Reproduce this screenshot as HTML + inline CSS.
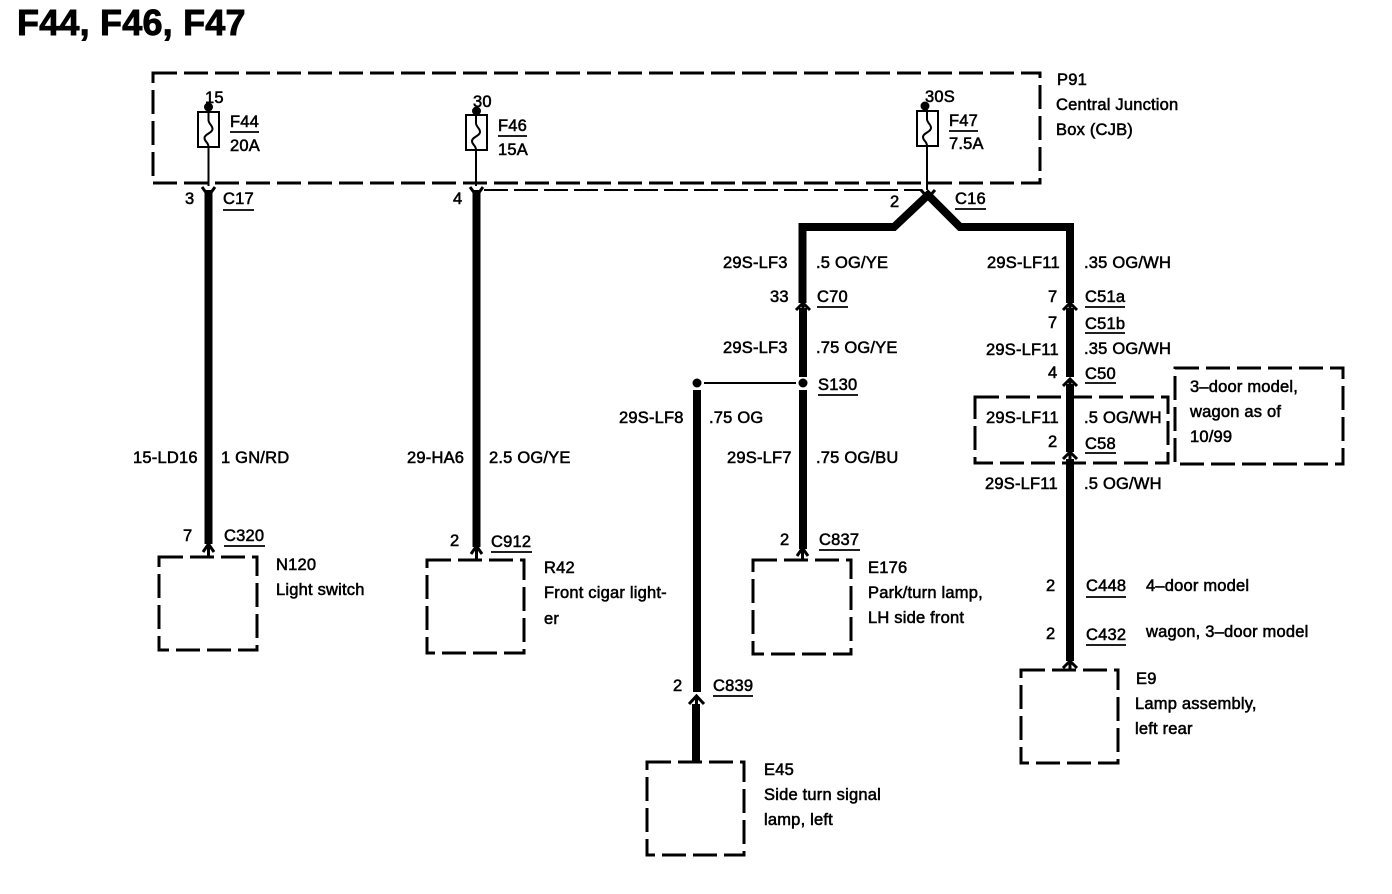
<!DOCTYPE html>
<html lang="en">
<head>
<meta charset="utf-8">
<title>F44, F46, F47</title>
<style>
html,body{margin:0;padding:0;background:#fff}
svg{display:block}
text{font-family:"Liberation Sans",sans-serif;font-size:16.5px;letter-spacing:.2px;fill:#000;stroke:#000;stroke-width:.55}
.title{font-size:36px;font-weight:bold;stroke-width:.9;letter-spacing:.2px}
.box{fill:none;stroke:#000;stroke-width:3;stroke-dasharray:24 7}
.w{fill:none;stroke:#000;stroke-width:8}
.t{fill:none;stroke:#000;stroke-width:2}
.u{stroke:#000;stroke-width:1.8}
.c{fill:none;stroke:#000;stroke-width:3}
.f{fill:#fff;stroke:#000;stroke-width:2}
</style>
</head>
<body>
<svg width="1392" height="894" viewBox="0 0 1392 894" xmlns="http://www.w3.org/2000/svg">
<rect width="1392" height="894" fill="#fff"/>
<text class="title" x="17" y="35">F44, F46, F47</text>

<!-- dashed boxes -->
<rect class="box" x="153" y="73" width="887" height="110"/>
<rect class="box" x="975" y="397" width="193" height="66"/>
<rect class="box" x="1175" y="368" width="168" height="96"/>
<rect class="box" x="159" y="557" width="98" height="93"/>
<rect class="box" x="427" y="560" width="97" height="93"/>
<rect class="box" x="753" y="560" width="98" height="94"/>
<rect class="box" x="1021" y="670" width="97" height="93"/>
<rect class="box" x="647" y="762" width="97" height="93"/>

<!-- fuses -->
<g>
<circle cx="208.5" cy="107" r="4.5"/>
<line class="t" x1="208.5" y1="107" x2="208.5" y2="186"/>
<rect class="f" x="198" y="112" width="21" height="35"/>
<path class="t" d="M208.5 112v8c0 4 4 5 4 9s-8 5-8 9 4 4 4 9"/>
<circle cx="476.5" cy="111" r="4.5"/>
<line class="t" x1="476" y1="111" x2="476" y2="186"/>
<rect class="f" x="466" y="115" width="21" height="35"/>
<path class="t" d="M476 115v8c0 4 4 5 4 9s-8 5-8 9 4 4 4 9"/>
<circle cx="925" cy="106" r="4.5"/>
<line class="t" x1="927" y1="146" x2="927" y2="190"/>
<rect class="f" x="917" y="111" width="21" height="35"/>
<path class="t" d="M926 106l1 5v8c0 4 4 5 4 9s-8 5-8 9 4 4 4 9"/>
</g>

<!-- dashed feed between connectors -->
<line class="t" x1="484" y1="190" x2="922" y2="190" stroke-dasharray="24 6"/>

<!-- heavy wires -->
<line class="w" x1="208.5" y1="190" x2="208.5" y2="544"/>
<line class="w" x1="476.5" y1="190" x2="476.5" y2="547"/>
<path class="w" d="M802.5 303V227H894L928 195L960 227H1070V303"/>
<line class="w" x1="803" y1="308" x2="803" y2="377"/>
<line class="w" x1="803" y1="390" x2="803" y2="549"/>
<line class="w" x1="697" y1="390" x2="697" y2="692"/>
<line class="w" x1="696" y1="704" x2="696" y2="762"/>
<line class="w" x1="1070" y1="308" x2="1070" y2="377"/>
<line class="w" x1="1070" y1="384" x2="1070" y2="452"/>
<line class="w" x1="1070" y1="459" x2="1070" y2="661"/>

<!-- thin links and splices -->
<line class="t" x1="704" y1="383" x2="796" y2="383"/>
<circle cx="697" cy="383" r="4.5"/>
<circle cx="803" cy="383" r="4.5"/>

<!-- connector chevrons -->
<path class="c" d="M202 187L208.5 196L215 187"/>
<path class="c" d="M470 187L476.5 196L483 187"/>
<path class="c" d="M921 190L928 198L935 190"/>
<path class="c" d="M203 552L208.5 544L214 552M208.5 544V557"/>
<path class="c" d="M471 554L476.5 546L482 554M476.5 546V560"/>
<path class="c" d="M797 556L802.5 548L808 556M802.5 548V560"/>
<path class="c" d="M796 310L803 303L810 310M803 303V310"/>
<path class="c" d="M689 704L696.5 696L704 704M696.5 696V706"/>
<path class="c" d="M1063 310L1070 303L1077 310M1070 303V310"/>
<path class="c" d="M1063 386L1070 379L1077 386M1070 379V386"/>
<path class="c" d="M1063 459L1070 452L1077 459M1070 452V460"/>
<path class="c" d="M1063 668L1070 661L1077 668M1070 660V670"/>

<!-- underlines -->
<g class="u">
<line x1="230" y1="132" x2="259" y2="132"/>
<line x1="498" y1="136" x2="527" y2="136"/>
<line x1="949" y1="131" x2="978" y2="131"/>
<line x1="223" y1="210" x2="254" y2="210"/>
<line x1="955" y1="209" x2="986" y2="209"/>
<line x1="224" y1="546" x2="265" y2="546"/>
<line x1="491" y1="552" x2="532" y2="552"/>
<line x1="817" y1="307" x2="848" y2="307"/>
<line x1="818" y1="395" x2="858" y2="395"/>
<line x1="819" y1="550" x2="860" y2="550"/>
<line x1="1085" y1="307" x2="1125" y2="307"/>
<line x1="1085" y1="333" x2="1125" y2="333"/>
<line x1="1085" y1="383" x2="1116" y2="383"/>
<line x1="1085" y1="453" x2="1116" y2="453"/>
<line x1="1086" y1="597" x2="1126" y2="597"/>
<line x1="1086" y1="645" x2="1126" y2="645"/>
<line x1="713" y1="696" x2="753" y2="696"/>
</g>

<!-- labels -->
<text x="1057" y="85">P91</text>
<text x="1056" y="110">Central Junction</text>
<text x="1056" y="135">Box (CJB)</text>
<text x="205" y="103">15</text>
<text x="230" y="127">F44</text>
<text x="230" y="151">20A</text>
<text x="473" y="107">30</text>
<text x="498" y="131">F46</text>
<text x="498" y="155">15A</text>
<text x="925" y="102">30S</text>
<text x="949" y="126">F47</text>
<text x="949" y="149">7.5A</text>
<text x="185" y="204">3</text>
<text x="223" y="204">C17</text>
<text x="453" y="204">4</text>
<text x="890" y="207">2</text>
<text x="955" y="204">C16</text>

<text x="133" y="463">15-LD16</text>
<text x="221" y="463">1 GN/RD</text>
<text x="407" y="463">29-HA6</text>
<text x="489" y="463">2.5 OG/YE</text>
<text x="183" y="541">7</text>
<text x="224" y="541">C320</text>
<text x="450" y="546">2</text>
<text x="491" y="547">C912</text>
<text x="276" y="570">N120</text>
<text x="276" y="595">Light switch</text>
<text x="544" y="573">R42</text>
<text x="544" y="598">Front cigar light-</text>
<text x="544" y="624">er</text>

<text x="723" y="268">29S-LF3</text>
<text x="816" y="268">.5 OG/YE</text>
<text x="770" y="302">33</text>
<text x="817" y="302">C70</text>
<text x="723" y="353">29S-LF3</text>
<text x="816" y="353">.75 OG/YE</text>
<text x="818" y="390">S130</text>
<text x="619" y="423">29S-LF8</text>
<text x="709" y="423">.75 OG</text>
<text x="727" y="463">29S-LF7</text>
<text x="816" y="463">.75 OG/BU</text>
<text x="780" y="545">2</text>
<text x="819" y="545">C837</text>
<text x="868" y="573">E176</text>
<text x="868" y="598">Park/turn lamp,</text>
<text x="868" y="623">LH side front</text>

<text x="987" y="268">29S-LF11</text>
<text x="1084" y="268">.35 OG/WH</text>
<text x="1048" y="302">7</text>
<text x="1085" y="302">C51a</text>
<text x="1048" y="328">7</text>
<text x="1085" y="329">C51b</text>
<text x="986" y="355">29S-LF11</text>
<text x="1084" y="354">.35 OG/WH</text>
<text x="1048" y="378">4</text>
<text x="1085" y="379">C50</text>
<text x="986" y="423">29S-LF11</text>
<text x="1084" y="423">.5 OG/WH</text>
<text x="1048" y="447">2</text>
<text x="1085" y="449">C58</text>
<text x="985" y="489">29S-LF11</text>
<text x="1084" y="489">.5 OG/WH</text>
<text x="1190" y="392">3–door model,</text>
<text x="1190" y="417">wagon as of</text>
<text x="1190" y="442">10/99</text>
<text x="1046" y="591">2</text>
<text x="1086" y="591">C448</text>
<text x="1146" y="591">4–door model</text>
<text x="1046" y="639">2</text>
<text x="1086" y="640">C432</text>
<text x="1146" y="637">wagon, 3–door model</text>
<text x="1136" y="684">E9</text>
<text x="1135" y="709">Lamp assembly,</text>
<text x="1135" y="734">left rear</text>
<text x="673" y="691">2</text>
<text x="713" y="691">C839</text>
<text x="764" y="775">E45</text>
<text x="764" y="800">Side turn signal</text>
<text x="764" y="825">lamp, left</text>
</svg>
</body>
</html>
